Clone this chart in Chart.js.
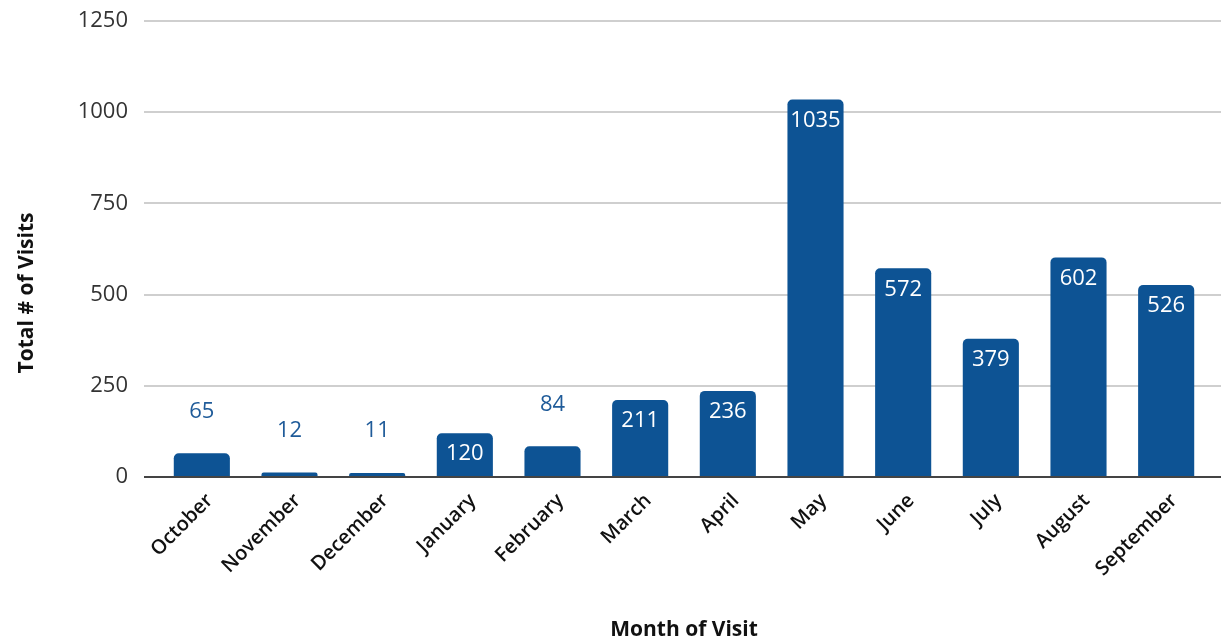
<!DOCTYPE html>
<html>
<head>
<meta charset="utf-8">
<script src="https://cdn.jsdelivr.net/npm/chart.js@4"></script>
<style>
html,body{margin:0;padding:0;background:#fff;}
#wrap{width:1231px;height:642px;position:relative;}
</style>
</head>
<body>
<div id="wrap"><canvas id="c" width="1231" height="642"></canvas></div>
<script>
const months = ["October","November","December","January","February","March","April","May","June","July","August","September"];
const visits = [65, 12, 11, 120, 84, 211, 236, 1035, 572, 379, 602, 526];
const yTicks = [0, 250, 500, 750, 1000, 1250];
const xTitle = "Month of Visit";
const yTitle = "Total # of Visits";

const BAR = "#0d5394";
const FONT = "'Open Sans', sans-serif";

const gridPlugin = {
  id: 'grid',
  beforeDatasetsDraw(chart) {
    const {ctx, chartArea, scales} = chart;
    const y = scales.y;
    ctx.save();
    yTicks.forEach(v => {
      const py = Math.round(y.getPixelForValue(v));
      ctx.beginPath();
      ctx.lineWidth = 2;
      ctx.strokeStyle = v === 0 ? "#444" : "#cfcfcf";
      ctx.moveTo(chartArea.left - 14, py);
      ctx.lineTo(chartArea.right + 11, py);
      ctx.stroke();
    });
    ctx.restore();
  },
  afterDatasetsDraw(chart) {
    const {ctx, scales} = chart;
    const y = scales.y;
    const py = Math.round(y.getPixelForValue(0));
    ctx.save();
    ctx.beginPath();
    ctx.lineWidth = 2;
    ctx.strokeStyle = "#444";
    ctx.moveTo(chart.chartArea.left - 14, py);
    ctx.lineTo(chart.chartArea.right + 11, py);
    ctx.stroke();
    const meta = chart.getDatasetMeta(0);
    ctx.font = "22px " + FONT;
    ctx.textAlign = "center";
    ctx.textBaseline = "middle";
    meta.data.forEach((bar, i) => {
      const v = visits[i];
      if (v >= 100) {
        ctx.fillStyle = "#ffffff";
        ctx.fillText(String(v), bar.x, bar.y + 21);
      } else {
        ctx.fillStyle = "#1f5b99";
        ctx.fillText(String(v), bar.x, bar.y - 42);
      }
    });
    ctx.fillStyle = "#111";
    ctx.font = "bold 21px " + FONT;
    ctx.fillText(xTitle, (chart.chartArea.left + chart.chartArea.right) / 2, 630);
    ctx.translate(27, 293);
    ctx.rotate(-Math.PI / 2);
    ctx.fillText(yTitle, 0, 0);
    ctx.restore();
  }
};

new Chart(document.getElementById('c'), {
  type: 'bar',
  data: {
    labels: months,
    datasets: [{
      data: visits,
      backgroundColor: BAR,
      borderRadius: {topLeft: 5, topRight: 5, bottomLeft: 0, bottomRight: 0},
      borderSkipped: false,
      categoryPercentage: 1,
      barPercentage: 0.64
    }]
  },
  options: {
    responsive: false,
    animation: false,
    devicePixelRatio: 1,
    layout: {padding: {left: 0, right: 21, top: 21, bottom: 0}},
    plugins: {legend: {display: false}, tooltip: {enabled: false}, title: {display: false}},
    scales: {
      x: {
        offset: true,
        grid: {display: false, drawTicks: false},
        border: {display: false},
        ticks: {
          minRotation: 45, maxRotation: 45,
          padding: 12,
          labelOffset: 8,
          color: "#111",
          font: {family: FONT, size: 20, weight: '600'}
        },
        afterFit(scale) { scale.height = 165; }
      },
      y: {
        min: 0, max: 1250,
        grid: {display: false, drawTicks: false},
        border: {display: false},
        afterBuildTicks(scale) { scale.ticks = yTicks.map(v => ({value: v})); },
        ticks: {
          padding: 30,
          color: "#333",
          font: {family: FONT, size: 22},
          callback: (v) => String(v)
        },
        afterFit(scale) { scale.width = 158; scale.paddingTop = 0; scale.paddingBottom = 0; }
      }
    }
  },
  plugins: [gridPlugin]
});
</script>
</body>
</html>
